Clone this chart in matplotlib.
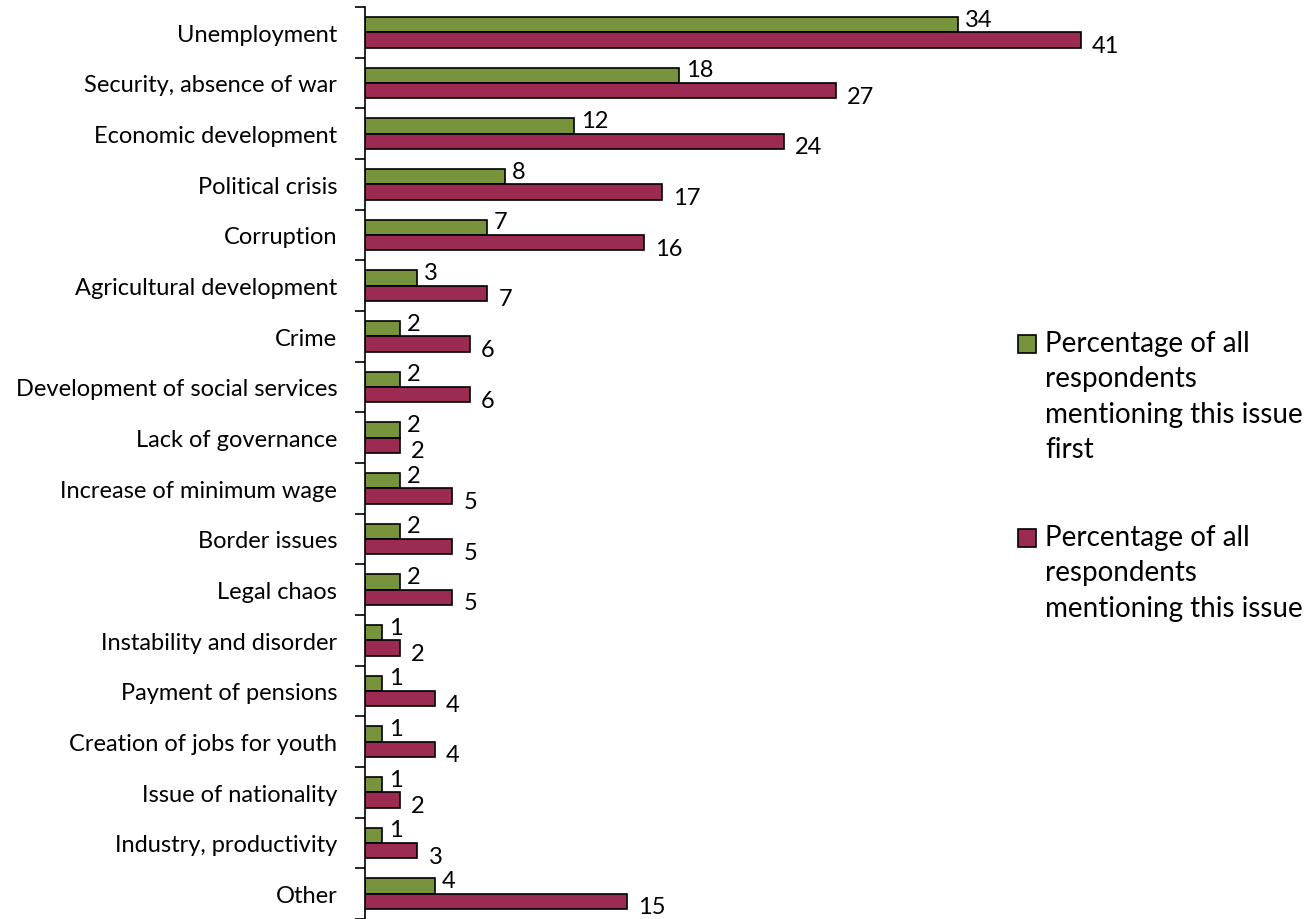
import numpy as np
import matplotlib
matplotlib.use("Agg")
import matplotlib.pyplot as plt
import matplotlib.patches as mpatches

# ------------------------------------------------------------------ #
# Data                                                                #
# ------------------------------------------------------------------ #

ISSUES = [
    "Unemployment",
    "Security, absence of war",
    "Economic development",
    "Political crisis",
    "Corruption",
    "Agricultural development",
    "Crime",
    "Development of social services",
    "Lack of governance",
    "Increase of minimum wage",
    "Border issues",
    "Legal chaos",
    "Instability and disorder",
    "Payment of pensions",
    "Creation of jobs for youth",
    "Issue of nationality",
    "Industry, productivity",
    "Other",
]
FIRST = [34, 18, 12, 8, 7, 3, 2, 2, 2, 2, 2, 2, 1, 1, 1, 1, 1, 4]
ANY = [41, 27, 24, 17, 16, 7, 6, 6, 2, 5, 5, 5, 2, 4, 4, 2, 3, 15]

LABEL_FIRST = "Percentage of all\nrespondents\nmentioning this issue\nfirst"
LABEL_ANY = "Percentage of all\nrespondents\nmentioning this issue"

GREEN = "#77933C"
MAROON = "#9B2B53"

plt.rcParams.update({
    "font.family": ["Lato", "DejaVu Sans"],
    "font.size": 17,
})

W, H = 1312, 920
fig = plt.figure(figsize=(W / 100, H / 100), dpi=100)
ax = fig.add_axes([365 / W, 0.0, 0.95 - 365 / W, 1 - 8 / H])

n = len(ISSUES)
y = np.arange(n)
h = 0.3

ax.barh(y - h / 2, FIRST, h, color=GREEN, edgecolor="black", linewidth=1.2)
ax.barh(y + h / 2, ANY, h, color=MAROON, edgecolor="black", linewidth=1.2)

for yi, v in zip(y, FIRST):
    ax.annotate(str(v), (v, yi - h / 2), xytext=(5, 4), textcoords="offset points",
                ha="left", va="center", fontsize=17)
for yi, v in zip(y, ANY):
    ax.annotate(str(v), (v, yi + h / 2), xytext=(8, -4), textcoords="offset points",
                ha="left", va="center", fontsize=17)

ax.set_ylim(n - 0.5, -0.5)
ax.set_xlim(0, 50.5)

ax.set_yticks(y)
ax.set_yticklabels(ISSUES)
ax.tick_params(axis="y", which="major", length=0, pad=20)
ax.set_yticks(np.arange(n + 1) - 0.5, minor=True)
ax.tick_params(axis="y", which="minor", length=7, width=1.2, direction="out")

ax.set_xticks([])
for s in ("top", "right", "bottom"):
    ax.spines[s].set_visible(False)
ax.spines["left"].set_linewidth(1.2)

# legend drawn by hand so the swatch sits on the first text line
for label, color, top in [(LABEL_FIRST, GREEN, 336), (LABEL_ANY, MAROON, 530)]:
    fig.add_artist(mpatches.Rectangle((1018 / W, 1 - (top + 18) / H), 18 / W, 18 / H,
                                      transform=fig.transFigure, facecolor=color,
                                      edgecolor="black", linewidth=1.2))
    fig.text(1045 / W, 1 - (top - 5) / H, label, ha="left", va="top",
             fontsize=20, linespacing=1.45)

fig.savefig("out.png", dpi=100)
